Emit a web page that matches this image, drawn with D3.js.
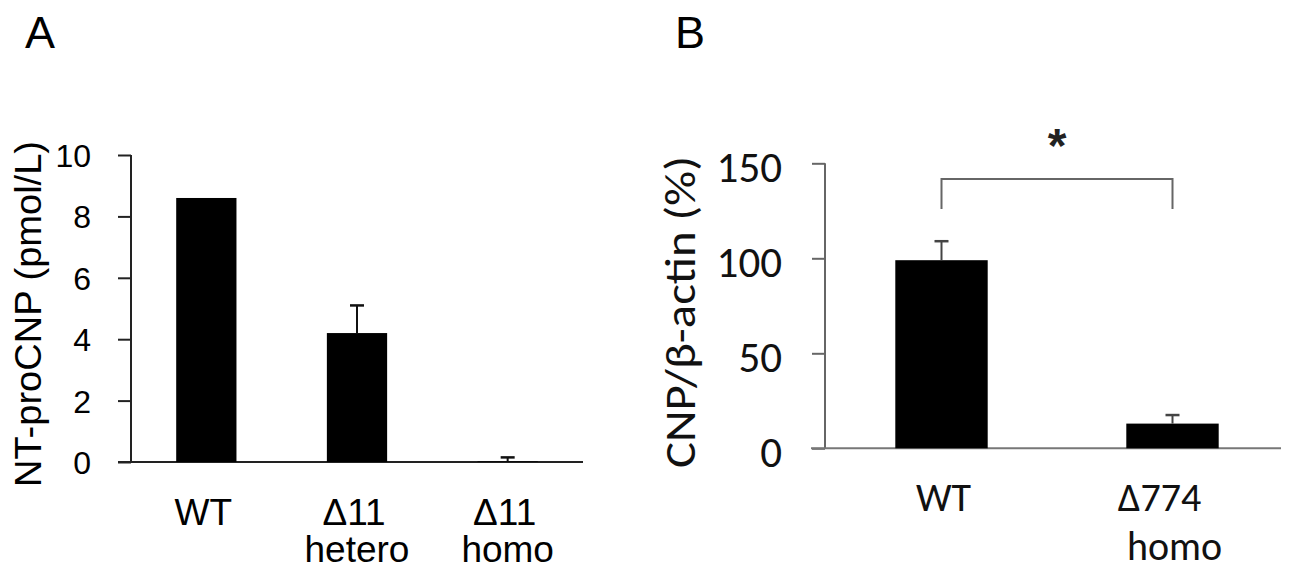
<!DOCTYPE html>
<html><head><meta charset="utf-8">
<script src="https://cdn.jsdelivr.net/npm/d3@7"></script>
<style>
body{margin:0;background:#fff;}
svg{display:block;}
</style></head>
<body>
<svg id="chart" width="1293" height="574"></svg>
<script>
// ---- Data ----
const categoriesA = [["WT"], ["Δ11", "hetero"], ["Δ11", "homo"]];
const valuesA = [8.6, 4.2, 0.02];
const errorsA = [0, 0.9, 0.13];
const ticksA = [0, 2, 4, 6, 8, 10];
const yLabelA = "NT-proCNP (pmol/L)";

const categoriesB = [["WT"], ["Δ774", "homo"]];
const valuesB = [99, 13];
const errorsB = [10, 4.5];
const ticksB = [0, 50, 100, 150];
const yLabelB = "CNP/β-actin (%)";
const sigLabel = "*";

const svg = d3.select("#chart");

// ---- Panel A ----
const fA = "'Liberation Sans', Arial, Helvetica, sans-serif";
const xA = d3.scaleBand().domain(d3.range(valuesA.length)).range([131, 583]).paddingInner(0.6).paddingOuter(0.3);
const yA = d3.scaleLinear().domain([0, 10]).range([462, 155]);

svg.append("text").attr("x", 40).attr("y", 48).attr("text-anchor", "middle")
  .attr("font-family", fA).attr("font-size", 45).attr("fill", "#000").text("A");

const gA = svg.append("g");
const axA = gA.append("g").attr("transform", "translate(131,0)")
  .call(d3.axisLeft(yA).tickValues(ticksA).tickSize(13).tickPadding(27).tickSizeOuter(0));
axA.select(".domain").remove();
axA.selectAll(".tick line").attr("stroke", "#222").attr("stroke-width", 2);
axA.selectAll(".tick text").attr("font-family", fA).attr("font-size", 32).attr("fill", "#000").attr("dy", "0.36em");
gA.append("line").attr("x1", 131).attr("x2", 131).attr("y1", yA(10)).attr("y2", yA(0)).attr("stroke", "#222").attr("stroke-width", 2);
gA.append("line").attr("x1", 118).attr("x2", 583).attr("y1", yA(0)).attr("y2", yA(0)).attr("stroke", "#222").attr("stroke-width", 2);

gA.selectAll("rect.bar").data(valuesA).join("rect").attr("class", "bar")
  .attr("x", (d, i) => xA(i)).attr("width", xA.bandwidth())
  .attr("y", d => yA(d)).attr("height", d => yA(0) - yA(d)).attr("fill", "#000");

valuesA.forEach((v, i) => {
  if (!errorsA[i]) return;
  const cx = xA(i) + xA.bandwidth() / 2;
  gA.append("line").attr("x1", cx).attr("x2", cx).attr("y1", yA(v)).attr("y2", yA(v + errorsA[i])).attr("stroke", "#111").attr("stroke-width", 2);
  gA.append("line").attr("x1", cx - 7).attr("x2", cx + 7).attr("y1", yA(v + errorsA[i])).attr("y2", yA(v + errorsA[i])).attr("stroke", "#111").attr("stroke-width", 2.5);
});

categoriesA.forEach((lines, i) => {
  const cx = xA(i) + xA.bandwidth() / 2;
  lines.forEach((t, j) => {
    svg.append("text").attr("x", cx - (j === 0 ? 3 : 0)).attr("y", 525 + j * 37)
      .attr("text-anchor", "middle").attr("font-family", fA).attr("font-size", 37).attr("fill", "#000").text(t);
  });
});

svg.append("text").attr("transform", "translate(41,314) rotate(-90)").attr("text-anchor", "middle")
  .attr("font-family", fA).attr("font-size", 37).attr("fill", "#000")
  .attr("textLength", 346).attr("lengthAdjust", "spacingAndGlyphs").text(yLabelA);

// ---- Panel B ----
const fB = "Carlito, Calibri, Lato, 'Open Sans', sans-serif";
const xB = d3.scaleBand().domain(d3.range(valuesB.length)).range([826, 1288]).paddingInner(0.6).paddingOuter(0.3);
const yB = d3.scaleLinear().domain([0, 150]).range([448.3, 163.3]);

svg.append("text").attr("x", 690).attr("y", 48).attr("text-anchor", "middle")
  .attr("font-family", fA).attr("font-size", 45).attr("fill", "#000").text("B");

const gB = svg.append("g");
const axB = gB.append("g").attr("transform", "translate(825,0)")
  .call(d3.axisLeft(yB).tickValues(ticksB).tickSize(13).tickPadding(30).tickSizeOuter(0));
axB.select(".domain").remove();
axB.selectAll(".tick line").attr("stroke", "#666").attr("stroke-width", 2);
axB.selectAll(".tick text").attr("font-family", fB).attr("font-size", 43).attr("fill", "#111").attr("dy", "0.42em");
gB.append("line").attr("x1", 825).attr("x2", 825).attr("y1", yB(150)).attr("y2", yB(0)).attr("stroke", "#666").attr("stroke-width", 2);
gB.append("line").attr("x1", 811).attr("x2", 1281).attr("y1", yB(0)).attr("y2", yB(0)).attr("stroke", "#777").attr("stroke-width", 2);

gB.selectAll("rect.bar").data(valuesB).join("rect").attr("class", "bar")
  .attr("x", (d, i) => xB(i)).attr("width", xB.bandwidth())
  .attr("y", d => yB(d)).attr("height", d => yB(0) - yB(d)).attr("fill", "#000");

valuesB.forEach((v, i) => {
  const cx = xB(i) + xB.bandwidth() / 2;
  gB.append("line").attr("x1", cx).attr("x2", cx).attr("y1", yB(v)).attr("y2", yB(v + errorsB[i])).attr("stroke", "#444").attr("stroke-width", 2);
  gB.append("line").attr("x1", cx - 7).attr("x2", cx + 7).attr("y1", yB(v + errorsB[i])).attr("y2", yB(v + errorsB[i])).attr("stroke", "#444").attr("stroke-width", 2.5);
});

// significance bracket
{
  const x1 = xB(0) + xB.bandwidth() / 2, x2 = xB(1) + xB.bandwidth() / 2;
  const yTop = 179, yBot = 209;
  gB.append("path").attr("d", `M${x1},${yBot}V${yTop}H${x2}V${yBot}`)
    .attr("fill", "none").attr("stroke", "#666").attr("stroke-width", 2);
  svg.append("text").attr("x", (x1 + x2) / 2).attr("y", 162).attr("text-anchor", "middle")
    .attr("font-family", fA).attr("font-size", 48).attr("font-weight", "bold").attr("fill", "#222").text(sigLabel);
}

categoriesB.forEach((lines, i) => {
  const cx = xB(i) + xB.bandwidth() / 2;
  lines.forEach((t, j) => {
    const dx = (lines.length > 1 && j === 0) ? -13 : 2;
    svg.append("text").attr("x", cx + dx).attr("y", 511 + j * 49)
      .attr("text-anchor", "middle").attr("font-family", fB).attr("font-size", 40).attr("fill", "#111").text(t);
  });
});

svg.append("text").attr("transform", "translate(695,312) rotate(-90)").attr("text-anchor", "middle")
  .attr("font-family", fB).attr("font-size", 44).attr("fill", "#111")
  .attr("textLength", 312).attr("lengthAdjust", "spacingAndGlyphs").text(yLabelB);
</script>
</body></html>
